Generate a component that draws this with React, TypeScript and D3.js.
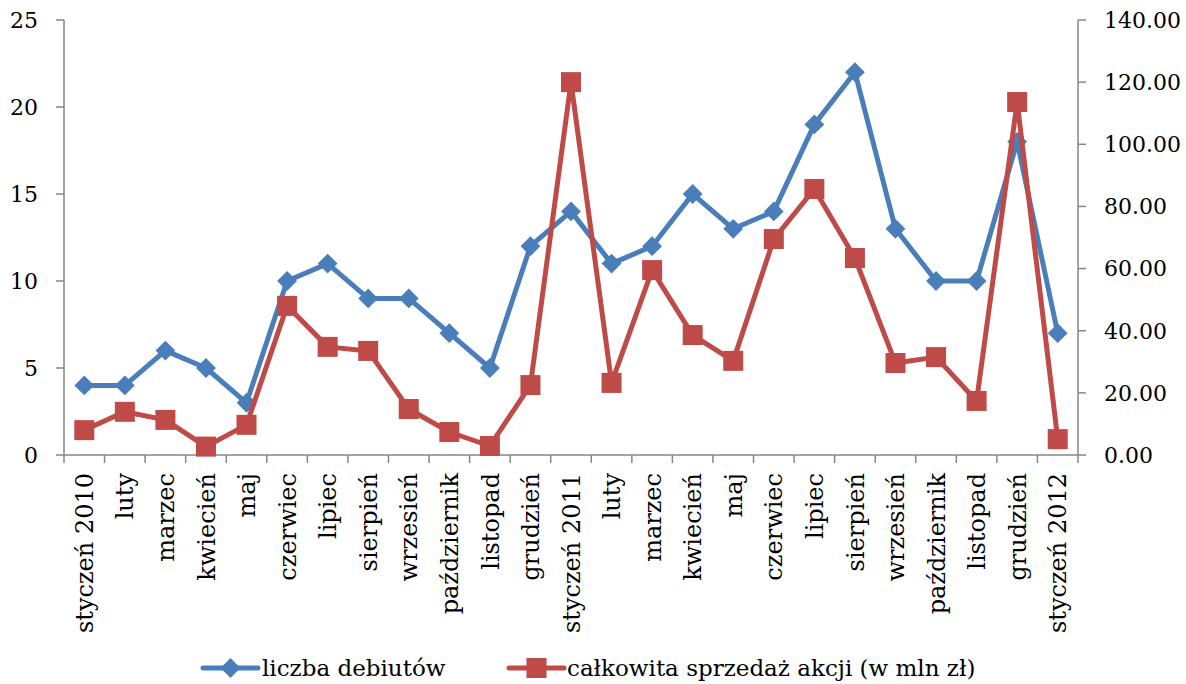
import * as d3 from 'd3';

const width = 1186;
const height = 684;
const margin = { top: 20, left: 64, bottom: 229, right: 108 };

const months = [
  'styczeń 2010', 'luty', 'marzec', 'kwiecień', 'maj', 'czerwiec', 'lipiec',
  'sierpień', 'wrzesień', 'październik', 'listopad', 'grudzień', 'styczeń 2011',
  'luty', 'marzec', 'kwiecień', 'maj', 'czerwiec', 'lipiec', 'sierpień',
  'wrzesień', 'październik', 'listopad', 'grudzień', 'styczeń 2012',
];
const debuts = [4, 4, 6, 5, 3, 10, 11, 9, 9, 7, 5, 12, 14, 11, 12, 15, 13, 14, 19, 22, 13, 10, 10, 18, 7];
const sales = [
  8.0, 13.9, 11.3, 2.7, 9.7, 48.0, 34.8, 33.5, 14.8, 7.4, 2.9, 22.5, 120.0,
  23.2, 59.5, 38.6, 30.3, 69.5, 85.6, 63.4, 29.6, 31.5, 17.4, 113.6, 5.1,
];
const leftTicks = [0, 5, 10, 15, 20, 25];
const rightTicks = [0, 20, 40, 60, 80, 100, 120, 140];

const blue = '#4A7EBB';
const red = '#BE4B48';
const axisColor = '#868686';
const font = 'DejaVu Serif';

function App() {
  const x0 = margin.left;
  const x1 = width - margin.right;
  const y0 = height - margin.bottom;
  const y1 = margin.top;
  const idx = months.map((_, i) => i);

  const x = d3.scaleBand<number>().domain(idx).range([x0, x1]);
  const cx = (i: number) => (x(i) || 0) + x.bandwidth() / 2;
  const yL = d3.scaleLinear().domain([0, 25]).range([y0, y1]);
  const yR = d3.scaleLinear().domain([0, 140]).range([y0, y1]);

  const blueLine = d3.line<number>().x((_, i) => cx(i)).y((d) => yL(d))(debuts) || '';
  const redLine = d3.line<number>().x((_, i) => cx(i)).y((d) => yR(d))(sales) || '';

  const bounds = d3.range(months.length + 1).map((i) => x0 + i * x.step());

  return (
    <svg
      width={width}
      height={height}
      style={{ position: 'absolute', left: 0, top: 0, background: '#fff' }}
      fontFamily={font}
    >
      {/* left axis */}
      <line x1={x0} x2={x0} y1={y1} y2={y0} stroke={axisColor} strokeWidth={1.5} />
      {leftTicks.map((t) => (
        <g key={'l' + t}>
          <line x1={x0 - 8} x2={x0} y1={yL(t)} y2={yL(t)} stroke={axisColor} strokeWidth={1.5} />
          <text x={38} y={yL(t)} dy="0.36em" textAnchor="end" fontSize={22} fill="#000">
            {t}
          </text>
        </g>
      ))}
      {/* right axis */}
      <line x1={x1} x2={x1} y1={y1} y2={y0} stroke={axisColor} strokeWidth={1.5} />
      {rightTicks.map((t) => (
        <g key={'r' + t}>
          <line x1={x1} x2={x1 + 8} y1={yR(t)} y2={yR(t)} stroke={axisColor} strokeWidth={1.5} />
          <text x={x1 + 26} y={yR(t)} dy="0.36em" textAnchor="start" fontSize={22} fill="#000">
            {t.toFixed(2)}
          </text>
        </g>
      ))}
      {/* bottom axis */}
      <line x1={x0} x2={x1} y1={y0} y2={y0} stroke={axisColor} strokeWidth={1.5} />
      {bounds.map((b, i) => (
        <line key={'b' + i} x1={b} x2={b} y1={y0} y2={y0 + 8} stroke={axisColor} strokeWidth={1.5} />
      ))}
      {months.map((m, i) => (
        <text
          key={'m' + i}
          transform={`translate(${cx(i)},${y0 + 18}) rotate(-90)`}
          textAnchor="end"
          dy="0.36em"
          fontSize={24}
          fill="#000"
        >
          {m}
        </text>
      ))}

      {/* series */}
      <path d={blueLine} fill="none" stroke={blue} strokeWidth={5} strokeLinejoin="round" />
      {debuts.map((d, i) => (
        <rect
          key={'bd' + i}
          x={cx(i) - 7}
          y={yL(d) - 7}
          width={14}
          height={14}
          fill={blue}
          transform={`rotate(45,${cx(i)},${yL(d)})`}
        />
      ))}
      <path d={redLine} fill="none" stroke={red} strokeWidth={5} strokeLinejoin="round" />
      {sales.map((d, i) => (
        <rect key={'rs' + i} x={cx(i) - 10} y={yR(d) - 10} width={20} height={20} fill={red} />
      ))}

      {/* legend */}
      <g transform="translate(203,668)">
        <line x1={0} x2={55} y1={0} y2={0} stroke={blue} strokeWidth={5} strokeLinecap="round" />
        <rect x={-7} y={-7} width={14} height={14} fill={blue} transform="translate(27.5,0) rotate(45)" />
        <text x={59} dy="0.36em" fontSize={23} fill="#000">liczba debiutów</text>
      </g>
      <g transform="translate(509,668)">
        <line x1={0} x2={55} y1={0} y2={0} stroke={red} strokeWidth={5} strokeLinecap="round" />
        <rect x={17.5} y={-10} width={20} height={20} fill={red} />
        <text x={58} dy="0.36em" fontSize={23} fill="#000">całkowita sprzedaż akcji (w mln zł)</text>
      </g>
    </svg>
  );
}

export default App;
